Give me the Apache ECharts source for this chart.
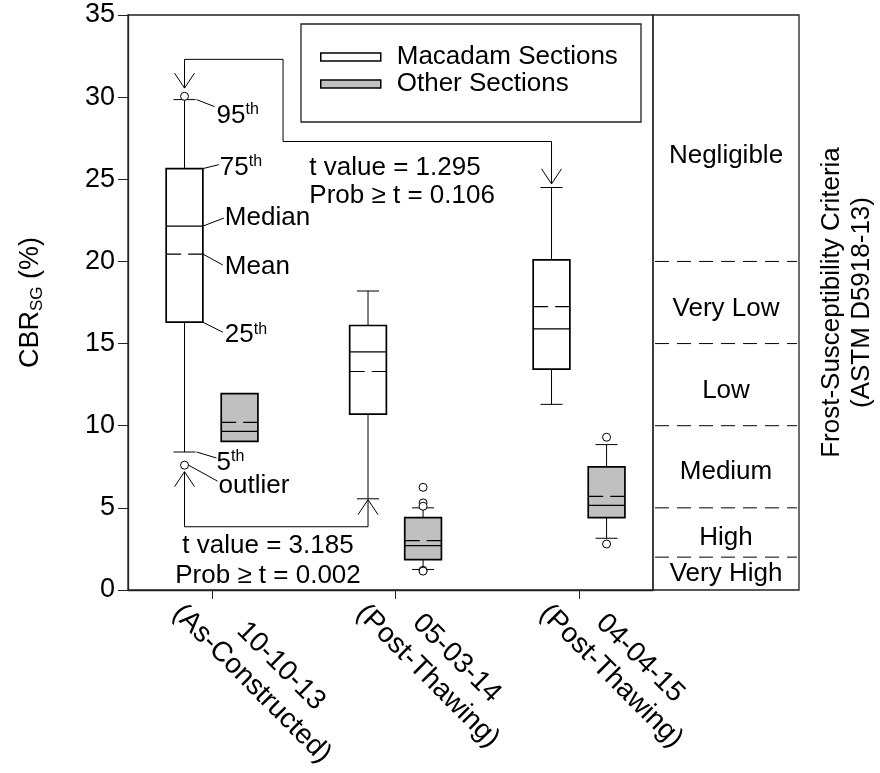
<!DOCTYPE html>
<html>
<head>
<meta charset="utf-8">
<script src="https://cdn.jsdelivr.net/npm/echarts@6/dist/echarts.min.js"></script>
<style>
  html, body { margin: 0; padding: 0; background: #fff; }
  #chart { width: 880px; height: 773px; }
</style>
</head>
<body>
<div id="chart"></div>
<script>
// ---- data -------------------------------------------------------------
const dates = ['10-10-13', '05-03-14', '04-04-15'];
const phases = ['(As-Constructed)', '(Post-Thawing)', '(Post-Thawing)'];
const categoryPos = [1, 2, 3];

// subgrade CBR (%) percentiles per survey: [5th, 25th, median, 75th, 95th]
const macadamStats = [
  [8.4, 16.3, 22.15, 25.65, 29.85],
  [5.55, 10.7, 14.5, 16.1, 18.2],
  [11.3, 13.45, 15.9, 20.1, 24.5]
];
const macadamMean = [20.45, 13.3, 17.25];
const macadamOutliers = [[30.05, 7.6], [], []];

const otherStats = [
  [9.05, 9.05, 9.65, 11.95, 11.95],
  [1.25, 1.85, 2.7, 4.4, 5.0],
  [3.15, 4.4, 5.15, 7.5, 8.85]
];
const otherMean = [10.2, 3.0, 5.7];
const otherOutliers = [[], [6.25, 5.3, 5.1, 1.2, 1.15], [9.3, 2.8]];

// ASTM D5918-13 frost-susceptibility classes (CBR limits and class names)
const frostLimits = [20, 15, 10, 5, 2];
const frostClasses = ['Negligible', 'Very Low', 'Low', 'Medium', 'High', 'Very High'];
const frostLabelAt = [26.4, 17.1, 12.1, 7.2, 3.2, 1.0];

// t-tests between surveys
const tTestUpper = ['t value = 1.295', 'Prob \u2265 t = 0.106'];
const tTestLower = ['t value = 3.185', 'Prob \u2265 t = 0.002'];

// ---- layout / style ---------------------------------------------------
const FONT = '"Liberation Sans", Arial, sans-serif';
const FS = 26;
const INK = '#000';
const FRAME = '#222';
const X_MIN = 0.542, X_MAX = 3.403;
const SHIFT = 0.15;        // offset of each group's box from the survey position
const BOX_HALF = 0.1;      // half box width in x units
const CAP_HALF = 11;       // whisker cap half width, px

function boxRenderer(shift, fill) {
  return function (params, api) {
    const x = api.value(0) + shift;
    const p5 = api.value(1), q1 = api.value(2), med = api.value(3),
          q3 = api.value(4), p95 = api.value(5), mean = api.value(6);
    const xc = api.coord([x, 0])[0];
    const xl = api.coord([x - BOX_HALF, 0])[0];
    const xr = api.coord([x + BOX_HALF, 0])[0];
    const y = v => api.coord([x, v])[1];
    const thin = { stroke: INK, lineWidth: 1 };
    const kids = [];
    if (p95 > q3) {
      kids.push({ type: 'line', shape: { x1: xc, y1: y(q3), x2: xc, y2: y(p95) }, style: thin });
      kids.push({ type: 'line', shape: { x1: xc - CAP_HALF, y1: y(p95), x2: xc + CAP_HALF, y2: y(p95) }, style: thin });
    }
    if (p5 < q1) {
      kids.push({ type: 'line', shape: { x1: xc, y1: y(q1), x2: xc, y2: y(p5) }, style: thin });
      kids.push({ type: 'line', shape: { x1: xc - CAP_HALF, y1: y(p5), x2: xc + CAP_HALF, y2: y(p5) }, style: thin });
    }
    kids.push({ type: 'rect', shape: { x: xl, y: y(q3), width: xr - xl, height: y(q1) - y(q3) },
      style: { fill: fill, stroke: INK, lineWidth: 1.7 } });
    kids.push({ type: 'line', shape: { x1: xl, y1: y(med), x2: xr, y2: y(med) }, style: { stroke: INK, lineWidth: 1.2 } });
    kids.push({ type: 'line', shape: { x1: xl, y1: y(mean), x2: xr, y2: y(mean) },
      style: { stroke: INK, lineWidth: 1.2, lineDash: [15, 7] } });
    return { type: 'group', children: kids };
  };
}

function arrowHead(tip, from) {
  const dx = tip[0] - from[0], dy = tip[1] - from[1];
  const len = Math.hypot(dx, dy) || 1;
  const ux = dx / len, uy = dy / len;
  const L = 15, W = 10;
  return {
    type: 'polyline',
    shape: { points: [
      [tip[0] - ux * L - uy * W, tip[1] - uy * L + ux * W],
      tip,
      [tip[0] - ux * L + uy * W, tip[1] - uy * L - ux * W]
    ] },
    style: { fill: 'none', stroke: INK, lineWidth: 1 }
  };
}

// connectors between compared surveys, in axis units
const linkUpper = [[1 - SHIFT, 30.55], [1 - SHIFT, 32.3], [1.387, 32.3], [1.387, 27.3], [3 - SHIFT, 27.3], [3 - SHIFT, 24.72]];
const linkLower = [[1 - SHIFT, 7.2], [1 - SHIFT, 3.85], [2 - SHIFT, 3.85], [2 - SHIFT, 5.5]];

// percentile call-outs on the first Macadam box
const noteTexts = [['95', 'th'], ['75', 'th'], ['Median', ''], ['Mean', ''], ['25', 'th'], ['5', 'th'], ['outlier', '']];
const noteValues = [macadamStats[0][4], macadamStats[0][3], macadamStats[0][2], macadamMean[0],
                    macadamStats[0][1], macadamStats[0][0], macadamOutliers[0][1]];
const noteLayout = [
  { from: 'cap',  dx: 18, dy: 7,  tx: 2, ty: 9 },
  { from: 'box',  dx: 16, dy: -4, tx: 1, ty: 3 },
  { from: 'box',  dx: 21, dy: -8, tx: 1, ty: 0 },
  { from: 'box',  dx: 20, dy: 11, tx: 2, ty: 2 },
  { from: 'box',  dx: 20, dy: 10, tx: 2, ty: 3 },
  { from: 'cap',  dx: 20, dy: 6,  tx: 0, ty: 5 },
  { from: 'dot',  dx: 29, dy: 16, tx: 1, ty: 5 }
];

function notesRenderer(params, api) {
  const kids = [];
  const line = pts => ({ type: 'polyline', shape: { points: pts }, style: { fill: 'none', stroke: INK, lineWidth: 1 } });
  [linkUpper, linkLower].forEach(link => {
    const pts = link.map(p => api.coord(p));
    kids.push(line(pts));
    kids.push(arrowHead(pts[0], pts[1]));
    kids.push(arrowHead(pts[pts.length - 1], pts[pts.length - 2]));
  });

  const x0 = 1 - SHIFT;
  const xc = api.coord([x0, 0])[0];
  const xr = api.coord([x0 + BOX_HALF, 0])[0];
  noteTexts.forEach((t, i) => {
    const lay = noteLayout[i];
    const yv = api.coord([x0, noteValues[i]])[1];
    let sx = xr;
    if (lay.from === 'cap') sx = xc + CAP_HALF + 1;
    if (lay.from === 'dot') sx = xc + 4;
    const ex = sx + lay.dx, ey = yv + lay.dy;
    kids.push(line([[sx, yv], [ex, ey]]));
    kids.push({
      type: 'text',
      style: {
        x: ex + lay.tx, y: ey + lay.ty,
        text: t[1] ? '{n|' + t[0] + '}{s|' + t[1] + '}' : '{n|' + t[0] + '}',
        align: 'left', verticalAlign: 'middle',
        rich: {
          n: { fontSize: FS, fontFamily: FONT, fill: INK, lineHeight: 28 },
          s: { fontSize: 16, fontFamily: FONT, fill: INK, lineHeight: 16, verticalAlign: 'top' }
        }
      }
    });
  });

  const up = api.coord([1.53, 24.86]);
  kids.push({ type: 'text', style: { x: up[0], y: up[1], text: tTestUpper.join('\n'), align: 'left', verticalAlign: 'middle',
    fontSize: FS, fontFamily: FONT, fill: INK, lineHeight: 28 } });
  const lo = api.coord([1.305, 1.8]);
  kids.push({ type: 'text', style: { x: lo[0], y: lo[1], text: tTestLower.join('\n'), align: 'center', verticalAlign: 'middle',
    fontSize: FS, fontFamily: FONT, fill: INK, lineHeight: 30 } });
  return { type: 'group', children: kids };
}

function boxData(stats, means) {
  return stats.map((s, i) => [categoryPos[i]].concat(s, [means[i]]));
}
function outlierData(list, shift) {
  const out = [];
  list.forEach((vals, i) => vals.forEach(v => out.push([categoryPos[i] + shift, v])));
  return out;
}

const chart = echarts.init(document.getElementById('chart'), null, { renderer: 'canvas' });

chart.setOption({
  animation: false,
  backgroundColor: '#fff',
  textStyle: { fontFamily: FONT },
  grid: [
    { left: 128, top: 15, width: 525, height: 575, show: true, borderColor: FRAME, borderWidth: 1.3,
      backgroundColor: 'transparent', containLabel: false, outerBoundsMode: 'none' },
    { left: 653, top: 15, width: 146, height: 575, show: true, borderColor: FRAME, borderWidth: 1.3,
      backgroundColor: 'transparent', containLabel: false, outerBoundsMode: 'none' }
  ],
  xAxis: [
    {
      type: 'value', gridIndex: 0, min: X_MIN, max: X_MAX,
      splitLine: { show: false },
      axisLine: { show: true, lineStyle: { color: FRAME, width: 1.3 } },
      axisTick: { show: true, customValues: categoryPos, length: 9, inside: false, lineStyle: { color: FRAME, width: 1 } },
      axisLabel: {
        customValues: categoryPos, rotate: -45, align: 'left', verticalAlign: 'top', margin: -16,
        formatter: v => {
          const i = categoryPos.indexOf(Math.round(v));
          return '{d|' + dates[i] + '}\n{a|' + phases[i] + '}';
        },
        rich: {
          d: { fontSize: 28, fontFamily: FONT, color: INK, align: 'center', lineHeight: 33, padding: [0, 0, 0, 16] },
          a: { fontSize: 28, fontFamily: FONT, color: INK, align: 'center', lineHeight: 33 }
        }
      }
    },
    { type: 'value', gridIndex: 1, min: 0, max: 1, show: false }
  ],
  yAxis: [
    {
      type: 'value', gridIndex: 0, min: 0, max: 35, interval: 5,
      splitLine: { show: false },
      axisLine: { show: true, lineStyle: { color: FRAME, width: 1.3 } },
      axisTick: { show: true, length: 10, inside: false, lineStyle: { color: FRAME, width: 1 } },
      axisLabel: { fontSize: 27, fontFamily: FONT, color: INK, margin: 13 },
      name: '{m|CBR}{s|SG}{m| (%)}',
      nameLocation: 'middle', nameRotate: 90, nameGap: 82,
      nameTextStyle: {
        rich: {
          m: { fontSize: 27, fontFamily: FONT, color: INK, lineHeight: 30 },
          s: { fontSize: 17, fontFamily: FONT, color: INK, lineHeight: 12, verticalAlign: 'bottom' }
        }
      }
    },
    {
      type: 'value', gridIndex: 1, min: 0, max: 35, position: 'right',
      splitLine: { show: false }, axisLine: { show: false }, axisTick: { show: false }, axisLabel: { show: false },
      name: 'Frost-Susceptibility Criteria\n(ASTM D5918-13)',
      nameLocation: 'middle', nameRotate: 90, nameGap: 18,
      nameTextStyle: { fontSize: FS, fontFamily: FONT, color: INK, lineHeight: 30, align: 'center' }
    }
  ],
  legend: {
    left: 320, top: 44, orient: 'vertical', padding: 0, itemGap: 1,
    itemWidth: 60, itemHeight: 8, selectedMode: false,
    textStyle: { fontSize: FS, fontFamily: FONT, color: INK, padding: [0, 0, 0, 11] },
    data: [
      { name: 'Macadam Sections', icon: 'rect', itemStyle: { color: '#fff', borderColor: INK, borderWidth: 1.5 } },
      { name: 'Other Sections', icon: 'rect', itemStyle: { color: '#c0c0c0', borderColor: INK, borderWidth: 1.5 } }
    ]
  },
  graphic: [
    { type: 'rect', shape: { x: 301, y: 24, width: 340, height: 98 },
      style: { fill: 'none', stroke: FRAME, lineWidth: 1.3 }, z: 10 }
  ],
  series: [
    {
      name: 'Macadam Sections', type: 'custom', xAxisIndex: 0, yAxisIndex: 0,
      itemStyle: { color: '#fff', borderColor: INK },
      encode: { x: 0, y: [1, 2, 3, 4, 5, 6] },
      renderItem: boxRenderer(-SHIFT, '#fff'),
      data: boxData(macadamStats, macadamMean), z: 2
    },
    {
      name: 'Other Sections', type: 'custom', xAxisIndex: 0, yAxisIndex: 0,
      itemStyle: { color: '#c0c0c0', borderColor: INK },
      encode: { x: 0, y: [1, 2, 3, 4, 5, 6] },
      renderItem: boxRenderer(SHIFT, '#c0c0c0'),
      data: boxData(otherStats, otherMean), z: 2
    },
    {
      name: 'outliers', type: 'scatter', xAxisIndex: 0, yAxisIndex: 0,
      symbol: 'circle', symbolSize: 8,
      itemStyle: { color: '#fff', borderColor: INK, borderWidth: 1, opacity: 1 },
      data: outlierData(macadamOutliers, -SHIFT).concat(outlierData(otherOutliers, SHIFT)),
      z: 4, silent: true
    },
    {
      name: 'notes', type: 'custom', xAxisIndex: 0, yAxisIndex: 0, silent: true,
      renderItem: notesRenderer, data: [[1, 0]], z: 3, clip: false
    },
    {
      name: 'frost limits', type: 'custom', xAxisIndex: 1, yAxisIndex: 1, silent: true,
      renderItem: (params, api) => {
        const v = api.value(1);
        const a = api.coord([0, v]), b = api.coord([1, v]);
        return { type: 'line', shape: { x1: a[0] + 2, y1: a[1], x2: b[0] - 2, y2: b[1] },
          style: { stroke: INK, lineWidth: 1, lineDash: [14, 8] } };
      },
      data: frostLimits.map(v => [0, v])
    },
    {
      name: 'frost classes', type: 'custom', xAxisIndex: 1, yAxisIndex: 1, silent: true,
      renderItem: (params, api) => {
        const p = api.coord([api.value(0), api.value(1)]);
        return { type: 'text', style: { x: p[0], y: p[1], text: frostClasses[params.dataIndex],
          align: 'center', verticalAlign: 'middle', fontSize: FS, fontFamily: FONT, fill: INK } };
      },
      data: frostLabelAt.map(v => [0.5, v])
    }
  ]
});
</script>
</body>
</html>
